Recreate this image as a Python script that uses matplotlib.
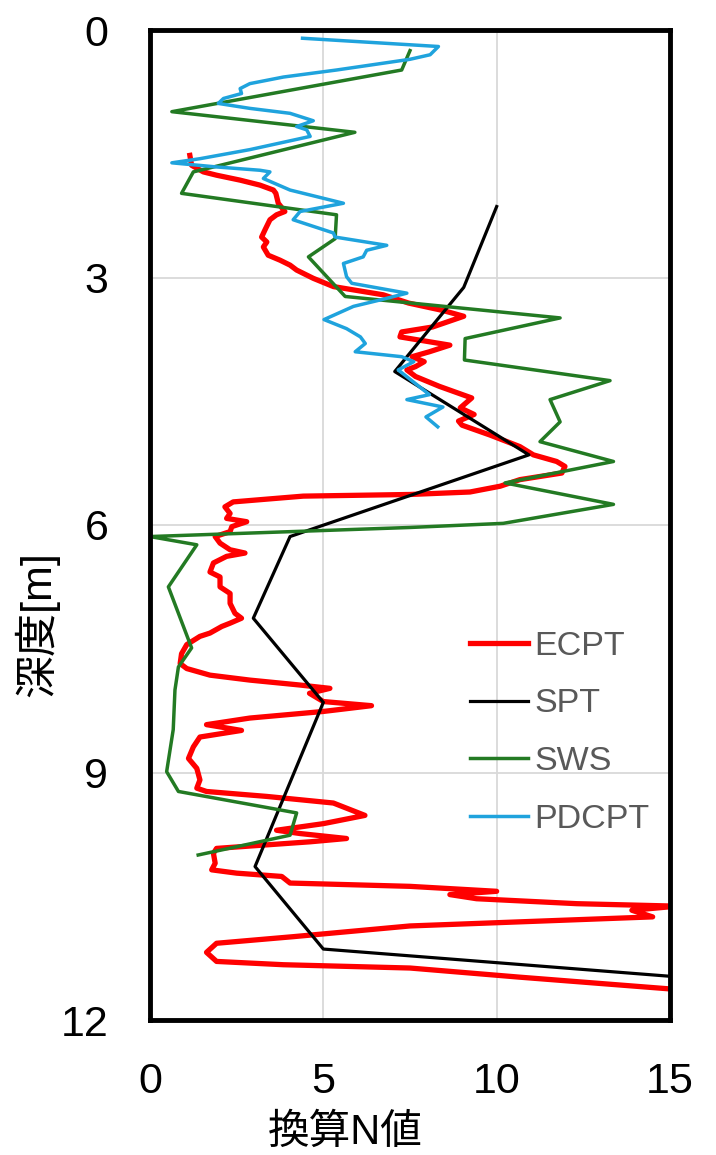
import matplotlib
matplotlib.use("Agg")
import matplotlib.pyplot as plt

# ---------------- data ----------------
ecpt_n = [1.15, 1.2, 1.54, 1.92, 2.6, 3.17, 3.56, 3.63, 3.70, 3.89, 3.65, 3.46, 3.32, 3.22, 3.37,
          3.27, 3.41, 3.75, 4.04, 4.23, 4.71, 5.29, 5.87, 6.73, 7.46, 8.45, 9.05, 8.15, 7.26, 7.21,
          8.65, 8.06, 7.56, 7.91, 7.66, 7.41, 7.66, 8.35, 9.28, 8.95, 9.35, 8.9, 9.0, 9.81, 10.67,
          11.06, 11.73, 11.97, 11.88, 10.67, 10.1, 9.23, 7.5, 4.42, 2.40, 2.16, 2.31, 2.21, 2.79,
          2.36, 2.31, 1.88, 2.02, 2.31, 2.74, 2.21, 1.83, 1.73, 2.02, 2.02, 2.31, 2.31, 2.45, 2.64,
          2.31, 2.07, 1.73, 1.44, 1.06, 0.91, 0.87, 1.06, 1.73, 2.88, 4.33, 5.19, 4.6, 5.0, 6.39,
          5.0, 2.88, 1.63, 2.64, 1.44, 1.25, 1.11, 1.35, 1.44, 1.35, 1.63, 3.37, 5.29, 6.2, 5.0,
          3.65, 4.33, 5.67, 4.62, 1.92, 1.83, 1.88, 1.78, 2.5, 3.8, 4.04, 5.77, 7.5, 10.0, 8.65,
          9.42, 12.31, 15.2, 13.9, 14.5, 7.5, 4.13, 1.92, 1.63, 1.92, 3.85, 7.5, 10.64, 15.2]
ecpt_depth = [1.52, 1.64, 1.72, 1.76, 1.82, 1.88, 1.94, 1.98, 2.10, 2.20, 2.24, 2.30, 2.42, 2.51, 2.57,
              2.63, 2.73, 2.79, 2.85, 2.91, 3.01, 3.11, 3.15, 3.21, 3.31, 3.40, 3.47, 3.60, 3.66, 3.72,
              3.82, 3.90, 3.96, 4.02, 4.08, 4.12, 4.20, 4.32, 4.46, 4.58, 4.66, 4.74, 4.79, 4.91, 5.05,
              5.15, 5.23, 5.29, 5.37, 5.45, 5.53, 5.60, 5.63, 5.65, 5.72, 5.78, 5.86, 5.92, 5.96,
              6.02, 6.08, 6.14, 6.22, 6.30, 6.34, 6.38, 6.46, 6.57, 6.63, 6.75, 6.83, 6.95, 7.07, 7.13,
              7.19, 7.23, 7.31, 7.35, 7.45, 7.56, 7.68, 7.74, 7.82, 7.88, 7.94, 7.98, 8.04, 8.14, 8.19,
              8.26, 8.34, 8.42, 8.49, 8.57, 8.69, 8.83, 8.95, 9.09, 9.19, 9.23, 9.29, 9.37, 9.52, 9.62,
              9.70, 9.74, 9.80, 9.84, 9.92, 9.98, 10.10, 10.18, 10.22, 10.26, 10.34, 10.36, 10.38, 10.44, 10.48,
              10.53, 10.59, 10.62, 10.67, 10.75, 10.86, 10.99, 11.07, 11.18, 11.29, 11.33, 11.37, 11.48, 11.63]

spt_n = [10.0, 9.05, 7.06, 10.93, 4.04, 2.98, 5.0, 3.03, 5.0, 15.0]
spt_depth = [2.14, 3.12, 4.14, 5.15, 6.14, 7.13, 8.15, 10.14, 11.14, 11.47]

sws_n = [7.5, 7.26, 0.63, 5.91, 1.25, 0.91, 5.38, 5.34, 4.57, 5.63, 11.83, 9.09, 9.07, 13.27, 11.54,
         11.83, 11.25, 13.37, 10.24, 13.37, 10.19, 7.5, 0.0, 1.35, 0.53, 1.2, 0.82, 0.72, 0.67, 0.48,
         0.82, 4.23, 4.04, 1.39]
sws_depth = [0.25, 0.485, 0.99, 1.24, 1.72, 1.98, 2.24, 2.53, 2.75, 3.23, 3.49, 3.74, 4.0, 4.25, 4.48,
             4.75, 4.99, 5.23, 5.49, 5.75, 5.98, 6.03, 6.14, 6.24, 6.75, 7.49, 7.72, 8.0, 8.48, 8.99,
             9.23, 9.49, 9.76, 10.0]

pdcpt_n = [4.40, 8.32, 8.08, 7.5, 5.38, 3.85, 2.88, 2.6, 2.64, 2.12, 1.97, 2.88, 4.04, 4.71, 4.23,
           4.52, 4.62, 2.88, 1.44, 0.63, 1.92, 3.17, 3.46, 3.27, 4.04, 5.58, 4.33, 4.13, 5.29, 5.34,
           6.83, 6.25, 6.15, 5.58, 5.67, 5.82, 7.41, 6.66, 5.87, 5.02, 5.67, 6.07, 6.21, 5.92, 7.26,
           7.61, 7.16, 8.06, 7.41, 8.45, 7.96, 8.30]
pdcpt_depth = [0.10, 0.20, 0.30, 0.355, 0.485, 0.57, 0.65, 0.71, 0.77, 0.83, 0.89, 0.95, 1.01, 1.10, 1.17,
               1.21, 1.29, 1.45, 1.56, 1.61, 1.66, 1.70, 1.72, 1.80, 1.94, 2.10, 2.20, 2.30, 2.46, 2.51,
               2.61, 2.67, 2.75, 2.83, 2.99, 3.07, 3.19, 3.27, 3.35, 3.51, 3.62, 3.72, 3.80, 3.90, 3.96,
               4.02, 4.12, 4.42, 4.48, 4.57, 4.69, 4.81]

x_ticks = [0, 5, 10, 15]
y_ticks = [0, 3, 6, 9, 12]
series_labels = ["ECPT", "SPT", "SWS", "PDCPT"]

# ---------------- figure ----------------
plt.rcParams['font.family'] = ['Liberation Sans', 'Noto Sans CJK JP', 'DejaVu Sans']

fig = plt.figure(figsize=(7.16, 11.55), dpi=100)
ax = fig.add_axes([150 / 716, 135 / 1155, 520 / 716, 990 / 1155])

ax.plot(ecpt_n, ecpt_depth, color='#FF0000', lw=3.8, label=series_labels[0], solid_joinstyle='round')
ax.plot(spt_n, spt_depth, color='black', lw=2.3, label=series_labels[1])
ax.plot(sws_n, sws_depth, color='#237A23', lw=2.5, label=series_labels[2])
ax.plot(pdcpt_n, pdcpt_depth, color='#1FA3DD', lw=2.5, label=series_labels[3])

ax.set_xlim(0, 15)
ax.set_ylim(12, 0)
ax.set_xticks(x_ticks)
ax.set_yticks(y_ticks)
ax.grid(True, color='#D9D9D9', lw=1.3)
ax.set_axisbelow(True)
ax.tick_params(length=0, labelsize=31, pad=30, colors='black')

for sp in ax.spines.values():
    sp.set_linewidth(3.5)
    sp.set_color('black')
    sp.set_zorder(5)

ax.set_xlabel("換算N値", fontsize=30)
ax.xaxis.set_label_coords(0.375, -0.094)
ax.set_ylabel("深度[m]", fontsize=31)
ax.yaxis.set_label_coords(-0.175, 0.40)

leg = ax.legend(loc='upper left', bbox_to_anchor=(0.615, 0.393), frameon=False,
                fontsize=24.5, handlelength=1.7, handletextpad=0.2, labelspacing=0.78,
                borderpad=0, borderaxespad=0)
for t in leg.get_texts():
    t.set_color('#595959')

fig.savefig("out.png", dpi=100)
